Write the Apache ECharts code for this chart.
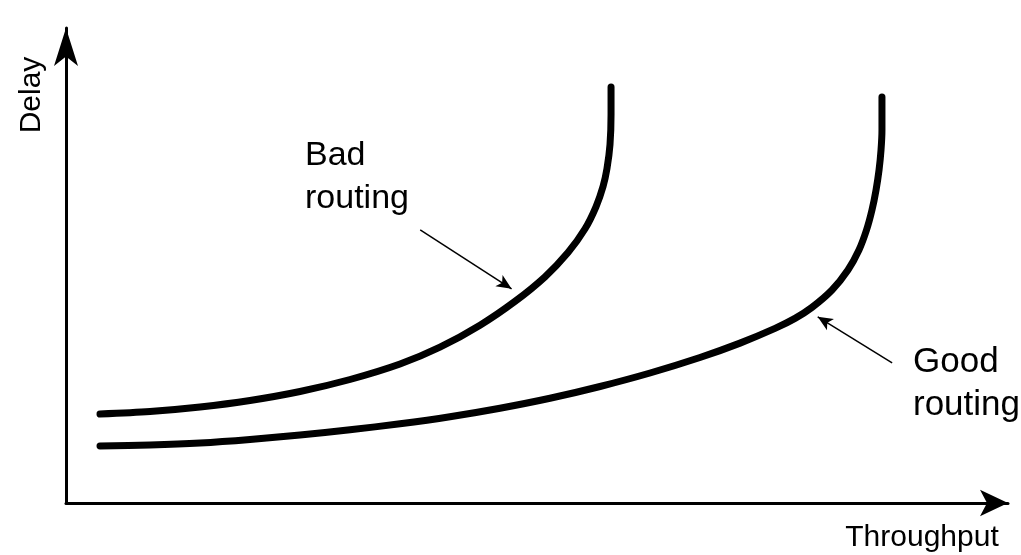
<!DOCTYPE html>
<html lang="en">
<head>
    <title>Delay vs Throughput</title>
    <meta charset="utf-8" />
    <script src="https://cdn.jsdelivr.net/npm/echarts@6/dist/echarts.min.js"></script>
    <style>
        html, body {
            margin: 0;
            padding: 0;
            background-color: #fff;
        }

        #main {
            width: 1021px;
            height: 555px;
        }
    </style>
</head>
<body>
<div id="main"></div>
<script type="text/javascript">
    // curve points, [throughput, delay] in arbitrary units 0-100
    let badRouting = [
        [3.61, 18.74], [8.92, 19.26], [14.23, 20.21], [19.53, 21.58], [24.84, 23.47],
        [30.15, 26.00], [35.46, 29.26], [39.70, 32.80], [43.95, 37.43], [47.66, 42.44],
        [50.85, 47.62], [53.29, 52.72], [55.10, 57.73], [56.26, 62.36], [57.01, 66.63],
        [57.43, 70.42], [57.75, 75.47], [57.86, 81.79], [57.86, 87.58]
    ]
    let goodRouting = [
        [3.61, 12.00], [8.92, 12.21], [14.23, 12.63], [19.53, 13.37], [24.84, 14.32],
        [30.15, 15.42], [35.46, 16.68], [40.76, 18.16], [46.07, 19.95], [51.38, 22.05],
        [56.69, 24.53], [62.00, 27.37], [67.30, 30.63], [71.55, 33.66], [75.27, 36.76],
        [77.39, 38.86], [79.19, 41.18], [81.32, 44.84], [83.01, 49.05], [84.18, 53.26],
        [84.98, 57.47], [85.56, 61.68], [85.99, 65.89], [86.31, 70.11], [86.52, 74.32],
        [86.62, 78.53], [86.62, 85.47]
    ]
    // pointer arrows: [from, to]
    let badPointer = [[37.6, 57.5], [47.3, 45.1]]
    let goodPointer = [[87.7, 29.5], [79.8, 39.2]]

    let colorInk = '#000'
    let fontName = '"Liberation Sans", Arial, sans-serif'

    let myChart = echarts.init(document.getElementById('main'))

    const pointer = (pair) => ({
        silent: true,
        symbol: ['none', 'arrow'],
        symbolSize: [10, 15],
        lineStyle: { color: colorInk, width: 1.5, type: 'solid' },
        label: { show: false },
        emphasis: { disabled: true },
        data: [[{ coord: pair[0] }, { coord: pair[1] }]]
    })

    myChart.setOption({
        animation: false,
        backgroundColor: '#fff',
        grid: {
            left: 66,
            right: 13,
            top: 28,
            bottom: 52,
        },
        xAxis: {
            type: 'value',
            min: 0,
            max: 100,
            axisLine: {
                show: true,
                symbol: ['none', 'arrow'],
                symbolSize: [20, 28],
                lineStyle: { color: colorInk, width: 3 },
            },
            axisTick: { show: false },
            axisLabel: { show: false },
            splitLine: { show: false },
        },
        yAxis: {
            type: 'value',
            min: 0,
            max: 100,
            axisLine: {
                show: true,
                symbol: ['none', 'arrow'],
                symbolSize: [18, 38],
                lineStyle: { color: colorInk, width: 3 },
            },
            axisTick: { show: false },
            axisLabel: { show: false },
            splitLine: { show: false },
        },
        series: [
            {
                name: 'Bad routing',
                type: 'line',
                smooth: 0.3,
                showSymbol: false,
                data: badRouting,
                lineStyle: { color: colorInk, width: 7, cap: 'round', join: 'round' },
                markLine: pointer(badPointer),
            },
            {
                name: 'Good routing',
                type: 'line',
                smooth: 0.3,
                showSymbol: false,
                data: goodRouting,
                lineStyle: { color: colorInk, width: 7, cap: 'round', join: 'round' },
                markLine: pointer(goodPointer),
            },
        ],
        graphic: [
            {
                type: 'text',
                left: 305,
                top: 134,
                style: {
                    text: 'Bad\nrouting',
                    font: '34px ' + fontName,
                    lineHeight: 43,
                    fill: colorInk,
                },
            },
            {
                type: 'text',
                left: 913,
                top: 341,
                style: {
                    text: 'Good\nrouting',
                    font: '35px ' + fontName,
                    lineHeight: 43,
                    fill: colorInk,
                },
            },
            {
                type: 'text',
                x: 922,
                y: 538,
                style: {
                    text: 'Throughput',
                    font: '30px ' + fontName,
                    align: 'center',
                    verticalAlign: 'middle',
                    fill: colorInk,
                },
            },
            {
                type: 'text',
                x: 32,
                y: 95,
                rotation: Math.PI / 2,
                style: {
                    text: 'Delay',
                    font: '30px ' + fontName,
                    align: 'center',
                    verticalAlign: 'middle',
                    fill: colorInk,
                },
            },
        ],
    })
</script>
</body>
</html>
